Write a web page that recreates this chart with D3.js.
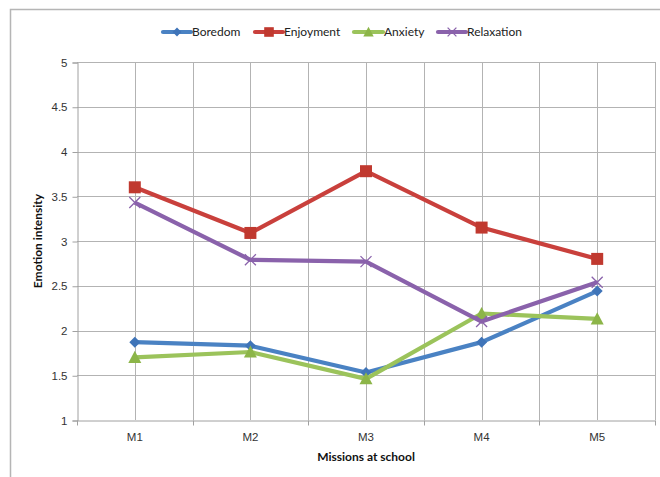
<!DOCTYPE html>
<html>
<head>
<meta charset="utf-8">
<script src="https://cdn.jsdelivr.net/npm/d3@7"></script>
<style>
  html, body { margin: 0; padding: 0; background: #fff; }
  svg { display: block; font-family: Lato, "Open Sans", "Liberation Sans", sans-serif; }
</style>
</head>
<body>
<svg id="chart" width="660" height="477"></svg>
<script>
// Mission categories and mean emotion ratings per mission
const missions = ["M1", "M2", "M3", "M4", "M5"];
const boredom    = [1.87, 1.83, 1.53, 1.87, 2.44];
const enjoyment  = [3.60, 3.09, 3.78, 3.15, 2.80];
const anxiety    = [1.70, 1.76, 1.46, 2.19, 2.13];
const relaxation = [3.43, 2.79, 2.77, 2.10, 2.54];
const yTicks = [1, 1.5, 2, 2.5, 3, 3.5, 4, 4.5, 5];

const series = [
  { name: "Boredom",    values: boredom,    line: "#4a82c3", fill: "#3f74b8", marker: "diamond" },
  { name: "Enjoyment",  values: enjoyment,  line: "#c9403c", fill: "#c0392f", marker: "square" },
  { name: "Anxiety",    values: anxiety,    line: "#9bc35b", fill: "#8cb548", marker: "triangle" },
  { name: "Relaxation", values: relaxation, line: "#8a62ab", fill: "#8a62ab", marker: "cross" }
];

const svg = d3.select("#chart");
const plot = { left: 77, right: 655, top: 62, bottom: 420 };

// outer chart frame
svg.append("rect")
  .attr("x", 10.5).attr("y", 9.5)
  .attr("width", 700).attr("height", 500)
  .attr("fill", "none").attr("stroke", "#b5b5b5").attr("stroke-width", 1.5);

const x = d3.scaleBand().domain(missions).range([plot.left, plot.right]).padding(0);
const xc = d => x(d) + x.bandwidth() / 2;
const y = d3.scaleLinear().domain([1, 5]).range([plot.bottom, plot.top]);

const grid = svg.append("g").attr("stroke", "#b3b3b3").attr("stroke-width", 1);
// horizontal gridlines
grid.selectAll("line.h").data(yTicks.slice(1)).join("line")
  .attr("x1", plot.left).attr("x2", plot.right)
  .attr("y1", d => Math.round(y(d)) + 0.5).attr("y2", d => Math.round(y(d)) + 0.5);
// vertical gridlines at category boundaries and centres
const vLines = missions.map(m => x(m)).slice(1).concat([plot.right]).concat(missions.map(xc));
grid.selectAll("line.v").data(vLines).join("line")
  .attr("x1", d => Math.round(d) + 0.5).attr("x2", d => Math.round(d) + 0.5)
  .attr("y1", plot.top).attr("y2", plot.bottom);

// y axis
const yAxis = svg.append("g")
  .attr("transform", `translate(${plot.left + 0.5},0.5)`)
  .call(d3.axisLeft(y).tickValues(yTicks).tickSize(5).tickPadding(5).tickFormat(d3.format("")));
yAxis.select(".domain").attr("stroke", "#a0a0a0");
yAxis.selectAll(".tick line").attr("stroke", "#a0a0a0");
yAxis.selectAll("text").attr("font-size", 11.5).attr("fill", "#333");

// x axis with tick marks at category boundaries
const xAxis = svg.append("g")
  .attr("transform", `translate(0,${plot.bottom + 0.5})`)
  .call(d3.axisBottom(x).tickSize(0).tickPadding(12));
xAxis.select(".domain").attr("stroke", "#a0a0a0");
xAxis.selectAll("text").attr("font-size", 11.5).attr("fill", "#333");
xAxis.selectAll("line.bnd").data(missions.map(m => x(m)).concat([plot.right])).join("line")
  .attr("class", "bnd")
  .attr("x1", d => Math.round(d) + 0.5).attr("x2", d => Math.round(d) + 0.5)
  .attr("y1", 0).attr("y2", 5).attr("stroke", "#a0a0a0");

// axis titles
svg.append("text")
  .attr("transform", `translate(42,${(plot.top + plot.bottom) / 2}) rotate(-90)`)
  .attr("text-anchor", "middle").attr("font-size", 12).attr("font-weight", "bold").attr("fill", "#111")
  .text("Emotion intensity");
svg.append("text")
  .attr("x", (plot.left + plot.right) / 2).attr("y", 461)
  .attr("text-anchor", "middle").attr("font-size", 12).attr("font-weight", "bold").attr("fill", "#111")
  .text("Missions at school");

// marker drawing
function drawMarker(g, s, cx, cy, scale) {
  const k = scale || 1;
  if (s.marker === "diamond") {
    const r = 5.5 * k;
    g.append("path").attr("d", `M${cx},${cy - r}L${cx + r},${cy}L${cx},${cy + r}L${cx - r},${cy}Z`)
      .attr("fill", s.fill);
  } else if (s.marker === "square") {
    const r = 6 * k;
    g.append("rect").attr("x", cx - r).attr("y", cy - r).attr("width", 2 * r).attr("height", 2 * r)
      .attr("fill", s.fill);
  } else if (s.marker === "triangle") {
    const r = 6.5 * k;
    g.append("path").attr("d", `M${cx},${cy - r}L${cx + r},${cy + r * 0.85}L${cx - r},${cy + r * 0.85}Z`)
      .attr("fill", s.fill);
  } else {
    const r = 5.5 * k;
    g.append("path").attr("d", `M${cx - r},${cy - r}L${cx + r},${cy + r}M${cx - r},${cy + r}L${cx + r},${cy - r}`)
      .attr("stroke", s.fill).attr("stroke-width", 1.3).attr("fill", "none");
  }
}

// series lines and markers
const line = d3.line().x((d, i) => xc(missions[i])).y(d => y(d));
series.forEach(s => {
  const g = svg.append("g");
  g.append("path").datum(s.values).attr("d", line)
    .attr("fill", "none").attr("stroke", s.line).attr("stroke-width", 4.2)
    .attr("stroke-linejoin", "round");
  s.values.forEach((v, i) => drawMarker(g, s, xc(missions[i]), y(v)));
});

// legend
const legendPos = [
  { x0: 163, tx: 192 },
  { x0: 255, tx: 284 },
  { x0: 354, tx: 384 },
  { x0: 438, tx: 467 }
];
const ly = 32;
series.forEach((s, i) => {
  const g = svg.append("g");
  const p = legendPos[i];
  g.append("line").attr("x1", p.x0).attr("x2", p.tx - 1).attr("y1", ly).attr("y2", ly)
    .attr("stroke", s.line).attr("stroke-width", 4.2).attr("stroke-linecap", "round");
  drawMarker(g, s, (p.x0 + p.tx - 1) / 2, ly, 0.8);
  g.append("text").attr("x", p.tx).attr("y", ly + 4).attr("font-size", 12).attr("fill", "#222")
    .text(s.name);
});
</script>
</body>
</html>
